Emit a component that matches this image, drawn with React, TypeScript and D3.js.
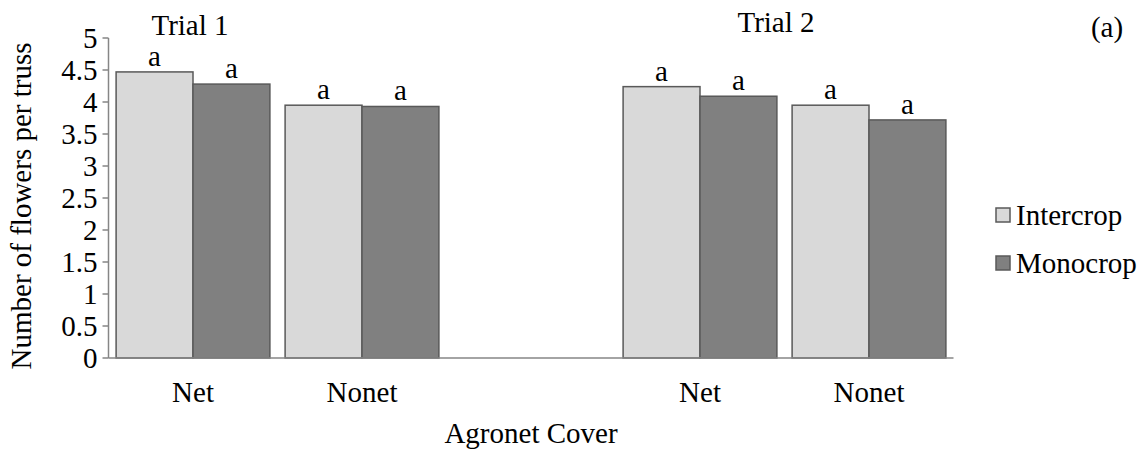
import React from "react";
import * as d3 from "d3";

const categories = ["T1-Net", "T1-Nonet", "gap", "T2-Net", "T2-Nonet"];
const categoryLabels = ["Net", "Nonet", "", "Net", "Nonet"];
const intercrop = [4.47, 3.95, null, 4.24, 3.95];
const monocrop = [4.28, 3.93, null, 4.09, 3.72];
const letters = ["a", "a", "", "a", "a"];
const yTicks = [0, 0.5, 1, 1.5, 2, 2.5, 3, 3.5, 4, 4.5, 5];
const seriesNames = ["Intercrop", "Monocrop"];
const seriesColors = ["#d9d9d9", "#808080"];

const FONT = '"Liberation Serif", "Times New Roman", Times, serif';
const ts: React.CSSProperties = { fontFamily: FONT, fontSize: "29px", fill: "#000" };

export default function App() {
  const W = 1146, H = 450;
  const left = 108.5, right = 953.5, top = 38, bottom = 358;
  const x = d3.scaleBand().domain(categories).range([left, right]).paddingInner(0.09).paddingOuter(0.045);
  const y = d3.scaleLinear().domain([0, 5]).range([bottom, top]);
  const sub = d3.scaleBand().domain(seriesNames).range([0, x.bandwidth()]);
  const series = [intercrop, monocrop];
  return (
    <svg width={W} height={H} style={{ position: "absolute", left: 0, top: 0, fontFamily: FONT }}>
      <rect width={W} height={H} fill="#fff" />
      {categories.map((c, i) =>
        series.map((s, k) => {
          const v = s[i];
          if (v == null) return null;
          const bx = (x(c) as number) + (sub(seriesNames[k]) as number);
          return (
            <g key={c + k}>
              <rect x={bx} y={y(v)} width={sub.bandwidth()} height={y(0) - y(v)} fill={seriesColors[k]} stroke="#595959" strokeWidth={1.5} />
              <text x={bx + sub.bandwidth() / 2} y={y(v) - 6} textAnchor="middle" style={ts}>{letters[i]}</text>
            </g>
          );
        })
      )}
      <line x1={left} x2={left} y1={top} y2={bottom} stroke="#868686" strokeWidth={1.5} />
      <line x1={left} x2={right} y1={bottom} y2={bottom} stroke="#868686" strokeWidth={1.5} />
      {yTicks.map((t) => (
        <g key={t}>
          <line x1={left - 6} x2={left} y1={y(t)} y2={y(t)} stroke="#868686" strokeWidth={1.5} />
          <text x={left - 11} y={y(t)} dy="0.33em" textAnchor="end" style={ts}>{t}</text>
        </g>
      ))}
      {categories.map((c, i) => (
        <text key={c} x={(x(c) as number) + x.bandwidth() / 2} y={402} textAnchor="middle" style={ts}>{categoryLabels[i]}</text>
      ))}
      <text x={531} y={443} textAnchor="middle" style={ts}>Agronet Cover</text>
      <text transform="translate(31,206) rotate(-90)" textAnchor="middle" style={ts}>Number of flowers per truss</text>
      <text x={190} y={35} textAnchor="middle" style={ts}>Trial 1</text>
      <text x={776} y={32} textAnchor="middle" style={ts}>Trial 2</text>
      <text x={1107} y={37} textAnchor="middle" style={ts}>(a)</text>
      {seriesNames.map((n, k) => (
        <g key={n}>
          <rect x={996} y={(k === 0 ? 215 : 263) - 7} width={14} height={14} fill={seriesColors[k]} stroke="#595959" strokeWidth={1.5} />
          <text x={1016} y={k === 0 ? 215 : 263} dy="0.33em" style={ts}>{n}</text>
        </g>
      ))}
    </svg>
  );
}
